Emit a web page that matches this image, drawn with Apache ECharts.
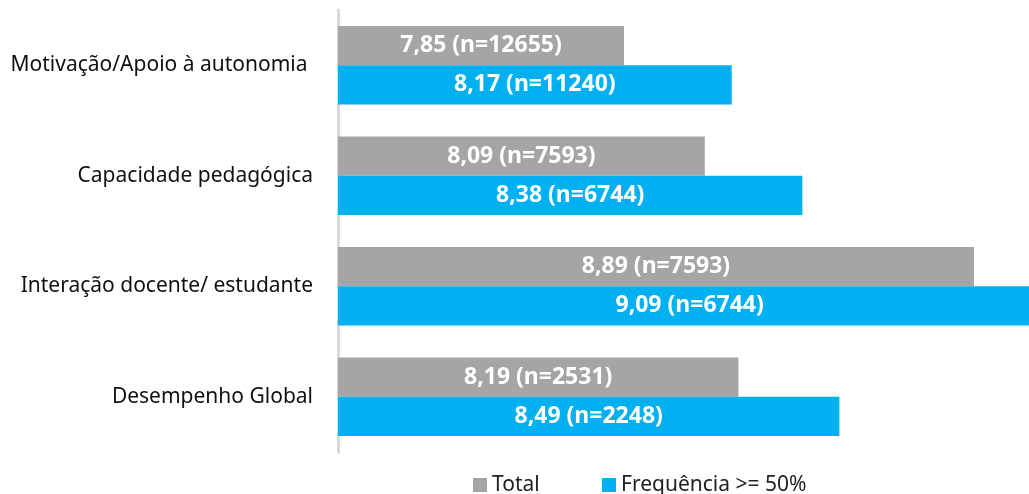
<!DOCTYPE html>
<html>
<head>
<meta charset="utf-8">
<script src="https://cdn.jsdelivr.net/npm/echarts@6/dist/echarts.min.js"></script>
<style>
  html, body { margin: 0; padding: 0; background: #fff; overflow: hidden; }
  /* the original chart is cropped at the right edge, so draw it wider */
  #chart { width: 1350px; height: 494px; }
</style>
</head>
<body>
<div id="chart"></div>
<script>
// categories, top to bottom
const categories = ['Motivação/Apoio à autonomia ', 'Capacidade pedagógica', 'Interação docente/ estudante', 'Desempenho Global'];
const totalValues = [7.85, 8.09, 8.89, 8.19];
const totalN = [12655, 7593, 7593, 2531];
const freqValues = [8.17, 8.38, 9.09, 8.49];
const freqN = [11240, 6744, 6744, 2248];

const fmt = (nArr) => (p) => p.value.toFixed(2).replace('.', ',') + ' (n=' + nArr[p.dataIndex] + ')';

const FONT = 'Noto Sans';

const legendBase = {
  top: 474,
  padding: 0,
  icon: 'rect',
  itemWidth: 14,
  itemHeight: 14,
  textStyle: { fontSize: 21, lineHeight: 22, color: '#222', fontFamily: FONT }
};

const barLabel = (nArr) => ({
  show: true,
  position: 'inside',
  color: '#fff',
  fontWeight: 'bold',
  fontSize: 23,
  fontFamily: FONT,
  formatter: fmt(nArr)
});

const myChart = echarts.init(document.getElementById('chart'));
myChart.setOption({
  animation: false,
  textStyle: { fontFamily: FONT },
  grid: {
    left: 338,
    top: 10,
    width: 1009.5,
    height: 442
  },
  legend: [
    Object.assign({ data: ['Total'], left: 473 }, legendBase),
    Object.assign({ data: ['Frequência >= 50%'], left: 602 }, legendBase)
  ],
  xAxis: {
    type: 'value',
    min: 7,
    max: 10,
    show: false,
    splitLine: { show: false }
  },
  yAxis: {
    type: 'category',
    inverse: true,
    data: categories,
    axisTick: { show: false },
    axisLine: { lineStyle: { color: '#D9D9D9', width: 3 } },
    axisLabel: { fontSize: 21, color: '#111', margin: 25, fontFamily: FONT }
  },
  series: [
    {
      name: 'Total',
      type: 'bar',
      data: totalValues,
      barCategoryGap: '29%',
      barGap: '0%',
      itemStyle: { color: '#A5A5A5' },
      label: barLabel(totalN)
    },
    {
      name: 'Frequência >= 50%',
      type: 'bar',
      data: freqValues,
      barCategoryGap: '29%',
      barGap: '0%',
      itemStyle: { color: '#00B0F0' },
      label: barLabel(freqN)
    }
  ]
});
</script>
</body>
</html>
